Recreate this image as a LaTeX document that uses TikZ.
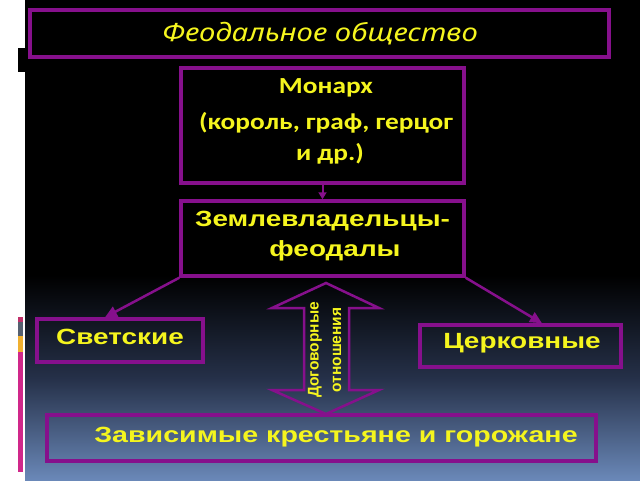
\documentclass[tikz,border=0pt]{standalone}
\usepackage{fontspec}
\usetikzlibrary{arrows.meta}
\newfontfamily\arialw[FakeStretch=1.27]{Liberation Sans}
\newfontfamily\arialx[FakeStretch=1.30]{Liberation Sans}
\newfontfamily\calibw[FakeStretch=1.19]{Carlito}
\newfontfamily\titlew[FakeStretch=1.17]{Noto Sans}
\newfontfamily\vertw{Liberation Sans}
\definecolor{pp}{HTML}{86108C}
\definecolor{yy}{HTML}{F5F51E}
\definecolor{bgblue}{HTML}{6A88B8}
\definecolor{bgmid}{HTML}{253048}
\definecolor{barA}{HTML}{C0306A}
\definecolor{barB}{HTML}{556070}
\definecolor{barC}{HTML}{F0B030}
\definecolor{barD}{HTML}{D0288A}
\begin{document}
\begin{tikzpicture}[x=1pt,y=-1pt,
  box/.style={draw=pp, line width=3.5pt, inner sep=0pt},
  txt/.style={text=yy, inner sep=0pt},
  con/.style={draw=pp, line width=2.5pt, -{Triangle[length=12pt,width=11pt]}},
  smallcon/.style={draw=pp, line width=2pt, -{Triangle[length=7pt,width=8pt]}},
  armfont/.style={font=\arialw\bfseries\fontsize{22}{30}\selectfont},
  calfont/.style={font=\calibw\bfseries\fontsize{23}{28}\selectfont},
  vertfont/.style={font=\vertw\bfseries\fontsize{15.5}{16}\selectfont}]
\useasboundingbox (0,0) rectangle (640,480);
% background
\fill[white] (0,0) rectangle (640,480);
\fill[black] (25,0) rectangle (640,480);
\shade[top color=black, bottom color=bgblue, middle color=bgmid] (25,275) rectangle (640,480);
\fill[black] (18,48) rectangle (25,72);
\fill[barA] (18,317) rectangle (23,322);
\fill[barB] (18,322) rectangle (23,336);
\fill[barC] (18,336) rectangle (23,352);
\fill[barD] (18,352) rectangle (23,472);
% boxes
\node[box, minimum width=579pt, minimum height=47pt] (title) at (319.5,33.5) {};
\node[txt, font=\titlew\itshape\fontsize{25}{28}\selectfont] (titletext) at (320,34) {Феодальное общество};
\node[box, minimum width=283pt, minimum height=115pt] (monarch) at (322.5,125.5) {};
\node[txt, calfont] (m1) at (326,88) {Монарх};
\node[txt, calfont] (m2) at (326,123) {(король, граф, герцог};
\node[txt, calfont] (m3) at (330,154) {и др.)};
\node[box, minimum width=283pt, minimum height=75pt] (lord) at (322.5,238.5) {};
\node[txt, armfont] (l1) at (322.5,221) {Землевладельцы-};
\node[txt, armfont] (l2) at (335,251) {феодалы};
\node[box, minimum width=166pt, minimum height=43pt] (svet) at (120,340.5) {};
\node[txt, armfont] (svettext) at (120,337) {Светские};
\node[box, minimum width=201pt, minimum height=42pt] (cerk) at (520.5,346) {};
\node[txt, armfont] (cerktext) at (522,343) {Церковные};
\node[box, minimum width=549pt, minimum height=46pt] (dep) at (321.5,438) {};
\node[txt, font=\arialx\bfseries\fontsize{22}{30}\selectfont] (deptext) at (336,437) {Зависимые крестьяне и горожане};
% connectors
\draw[smallcon] (monarch.south) -- (lord.north);
\draw[con] (lord.south west) -- ([xshift=-15pt]svet.north);
\draw[con] (lord.south east) -- ([xshift=21.5pt]cerk.north);
% double arrow
\coordinate (dtop) at (326,283);
\coordinate (dbot) at (326,414);
\draw[pp, line width=2.5pt, line join=miter]
  (dtop) -- (379,308) -- (349,308) -- (349,390) -- (379,390) -- (dbot)
  -- (272,390) -- (304,390) -- (304,308) -- (272,308) -- cycle;
\node[txt, rotate=90, vertfont] (d1) at (315,350) {Договорные};
\node[txt, rotate=90, vertfont] (d2) at (337,350) {отношения};
\end{tikzpicture}
\end{document}
